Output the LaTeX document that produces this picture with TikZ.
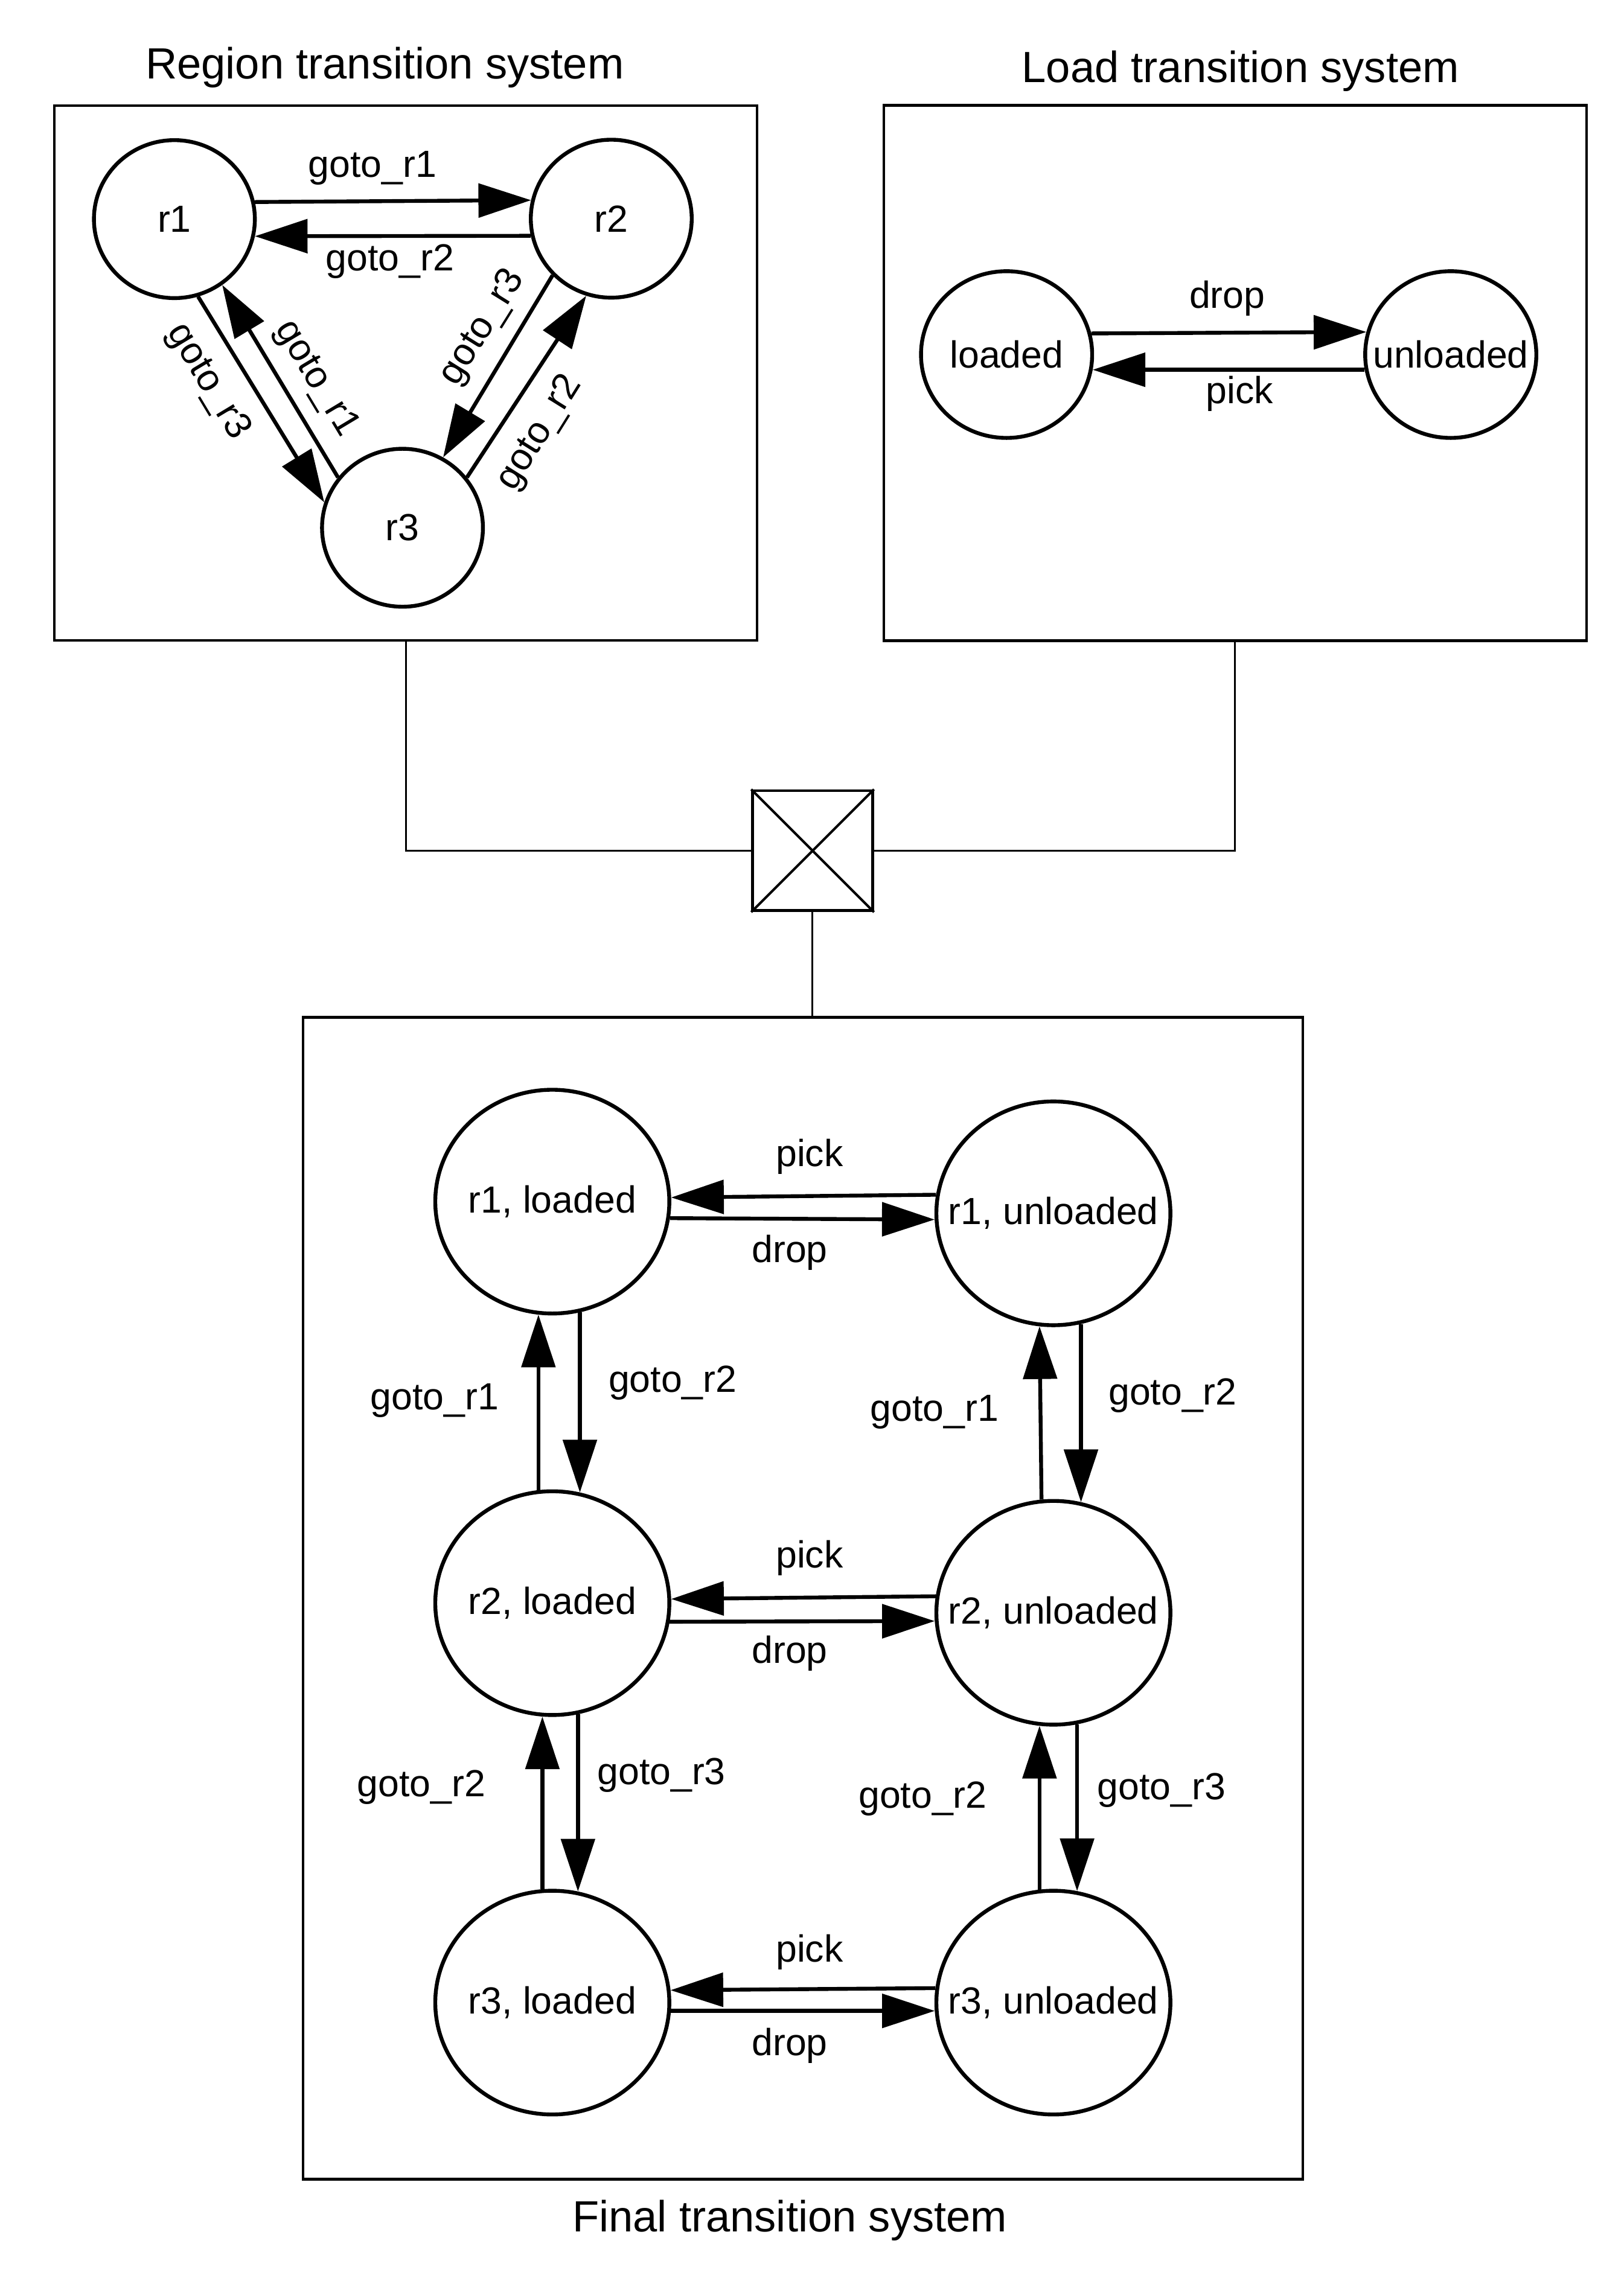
\documentclass[tikz,border=0pt]{standalone}
\usepackage{fontspec}
\setmainfont{Liberation Sans}
\usetikzlibrary{shapes.geometric}
\usetikzlibrary{arrows.meta}

\begin{document}
\begin{tikzpicture}
			[
				x = 0.02cm, y = -0.02cm,
				every node/.style = {font = \fontsize{14.7}{17}\selectfont},
				heading/.style = {font = \fontsize{17}{20}\selectfont},
				sysbox/.style = {rectangle, draw, line width = 1pt, inner sep = 0pt},
				nogrow/.style = {inner sep = 0pt, execute at begin node = {\hbox to 0pt\bgroup\hss}, execute at end node = {\hss\egroup}},
				region/.style = {ellipse, draw, line width = 1.5pt, nogrow, minimum width = 2.2cm, minimum height = 2.16cm},
				load/.style = {ellipse, draw, line width = 1.5pt, nogrow, minimum width = 2.34cm, minimum height = 2.28cm},
				final/.style = {ellipse, draw, line width = 1.5pt, nogrow, minimum width = 3.2cm, minimum height = 3.06cm},
				arr/.style = {line width = 1.5pt, -{Triangle[length = 0.72cm, width = 0.46cm]}},
				link/.style = {line width = 0.7pt},
			]
			\useasboundingbox (0,0) rectangle (1110,1569.7);

			% region transition system
			\node (regbox) [sysbox, minimum width = 9.61cm, minimum height = 7.31cm] at (277.3,255.05) {};
			\node (regtitle) [heading] at (263,46) {Region transition system};
			\node (r1) [region] at (119.2,149.8) {r1};
			\node (r2) [region] at (417.8,149.5) {r2};
			\node (r3) [region] at (275.1,360.8) {r3};
			\draw [arr] (r1.12.8) -- (r2.167.5);
			\draw [arr] (r2.192.6) -- (r1.-12.3);
			\draw [arr] (r1.-73.6) -- (r3.162.9);
			\draw [arr] (r3.142) -- (r1.-54.1);
			\draw [arr] (r2.-136.6) -- (r3.60.8);
			\draw [arr] (r3.38.1) -- (r2.-108.3);
			\node (r1r2) at (254.5,114.9) {goto\_r1};
			\node (r2r1) at (266.5,178.9) {goto\_r2};
			\node (r1r3) [rotate = -59] at (142,261) {goto\_r3};
			\node (r3r1) [rotate = -59] at (216,259) {goto\_r1};
			\node (r2r3) [rotate = 58] at (330,224) {goto\_r3};
			\node (r3r2) [rotate = 58] at (369,296) {goto\_r2};

			% load transition system
			\node (loadbox) [sysbox, minimum width = 9.61cm, minimum height = 7.32cm] at (844.25,255) {};
			\node (loadtitle) [heading] at (847.9,48.5) {Load transition system};
			\node (loaded) [load] at (688,242.4) {loaded};
			\node (unloaded) [load] at (991.6,242.4) {unloaded};
			\draw [arr] (loaded.14.3) -- (unloaded.165.7);
			\draw [arr] (unloaded.190.3) -- (loaded.-10.3);
			\node (dropl) at (838.8,203.9) {drop};
			\node (pickl) at (847.3,269.1) {pick};

			% product
			\node (merge) [rectangle, draw, line width = 1.1pt, inner sep = 0pt, minimum size = 1.64cm] at (555.4,581.6) {};
			\draw [line width = 0.95pt] (merge.north west) -- (merge.south east);
			\draw [line width = 0.95pt] (merge.north east) -- (merge.south west);
			\draw [link] (regbox.south) |- (merge.west);
			\draw [link] (loadbox.south) |- (merge.east);

			% final transition system
			\node (finbox) [sysbox, minimum width = 13.67cm, minimum height = 15.89cm] at (548.85,1092.65) {};
			\node (fintitle) [heading] at (539.8,1518) {Final transition system};
			\draw [link] (merge.south) -- (merge.south |- finbox.north);
			\node (r1loaded) [final] at (377.5,821.5) {r1, loaded};
			\node (r1unloaded) [final] at (720,829.5) {r1, unloaded};
			\node (r2loaded) [final] at (377.5,1096) {r2, loaded};
			\node (r2unloaded) [final] at (720,1102.6) {r2, unloaded};
			\node (r3loaded) [final] at (377.5,1369.1) {r3, loaded};
			\node (r3unloaded) [final] at (720,1369.1) {r3, unloaded};

			\draw [arr] (r1unloaded.171.5) -- (r1loaded.2.7);
			\draw [arr] (r1loaded.-8.9) -- (r1unloaded.183.1);
			\draw [arr] (r2unloaded.172.3) -- (r2loaded.2.9);
			\draw [arr] (r2loaded.-9) -- (r2unloaded.184.2);
			\draw [arr] (r3unloaded.173.4) -- (r3loaded.6.6);
			\draw [arr] (r3loaded.-4.8) -- (r3unloaded.184.8);

			\draw [arr] (r2loaded.97.1) -- (r1loaded.-97.1);
			\draw [arr] (r1loaded.-76.8) -- (r2loaded.76.8);
			\draw [arr] (r2unloaded.96.3) -- (r1unloaded.-97.65);
			\draw [arr] (r1unloaded.-76.65) -- (r2unloaded.76.65);
			\draw [arr] (r3loaded.95.8) -- (r2loaded.-95.8);
			\draw [arr] (r2loaded.-77.1) -- (r3loaded.77.1);
			\draw [arr] (r3unloaded.97) -- (r2unloaded.-97);
			\draw [arr] (r2unloaded.-78.4) -- (r3unloaded.78.4);

			\node (pick1) at (553.3,790.9) {pick};
			\node (drop1) at (539.8,856.2) {drop};
			\node (pick2) at (553.3,1065.1) {pick};
			\node (drop2) at (539.8,1130.4) {drop};
			\node (pick3) at (553.3,1334.7) {pick};
			\node (drop3) at (539.8,1398.4) {drop};
			\node (up12l) at (297,957.5) {goto\_r1};
			\node (down12l) at (459.8,945.5) {goto\_r2};
			\node (up12u) at (638.8,965.4) {goto\_r1};
			\node (down12u) at (801.5,954.1) {goto\_r2};
			\node (up23l) at (288,1221.8) {goto\_r2};
			\node (down23l) at (452.1,1213.8) {goto\_r3};
			\node (up23u) at (630.7,1229.8) {goto\_r2};
			\node (down23u) at (793.9,1223.9) {goto\_r3};
		\end{tikzpicture}
\end{document}
